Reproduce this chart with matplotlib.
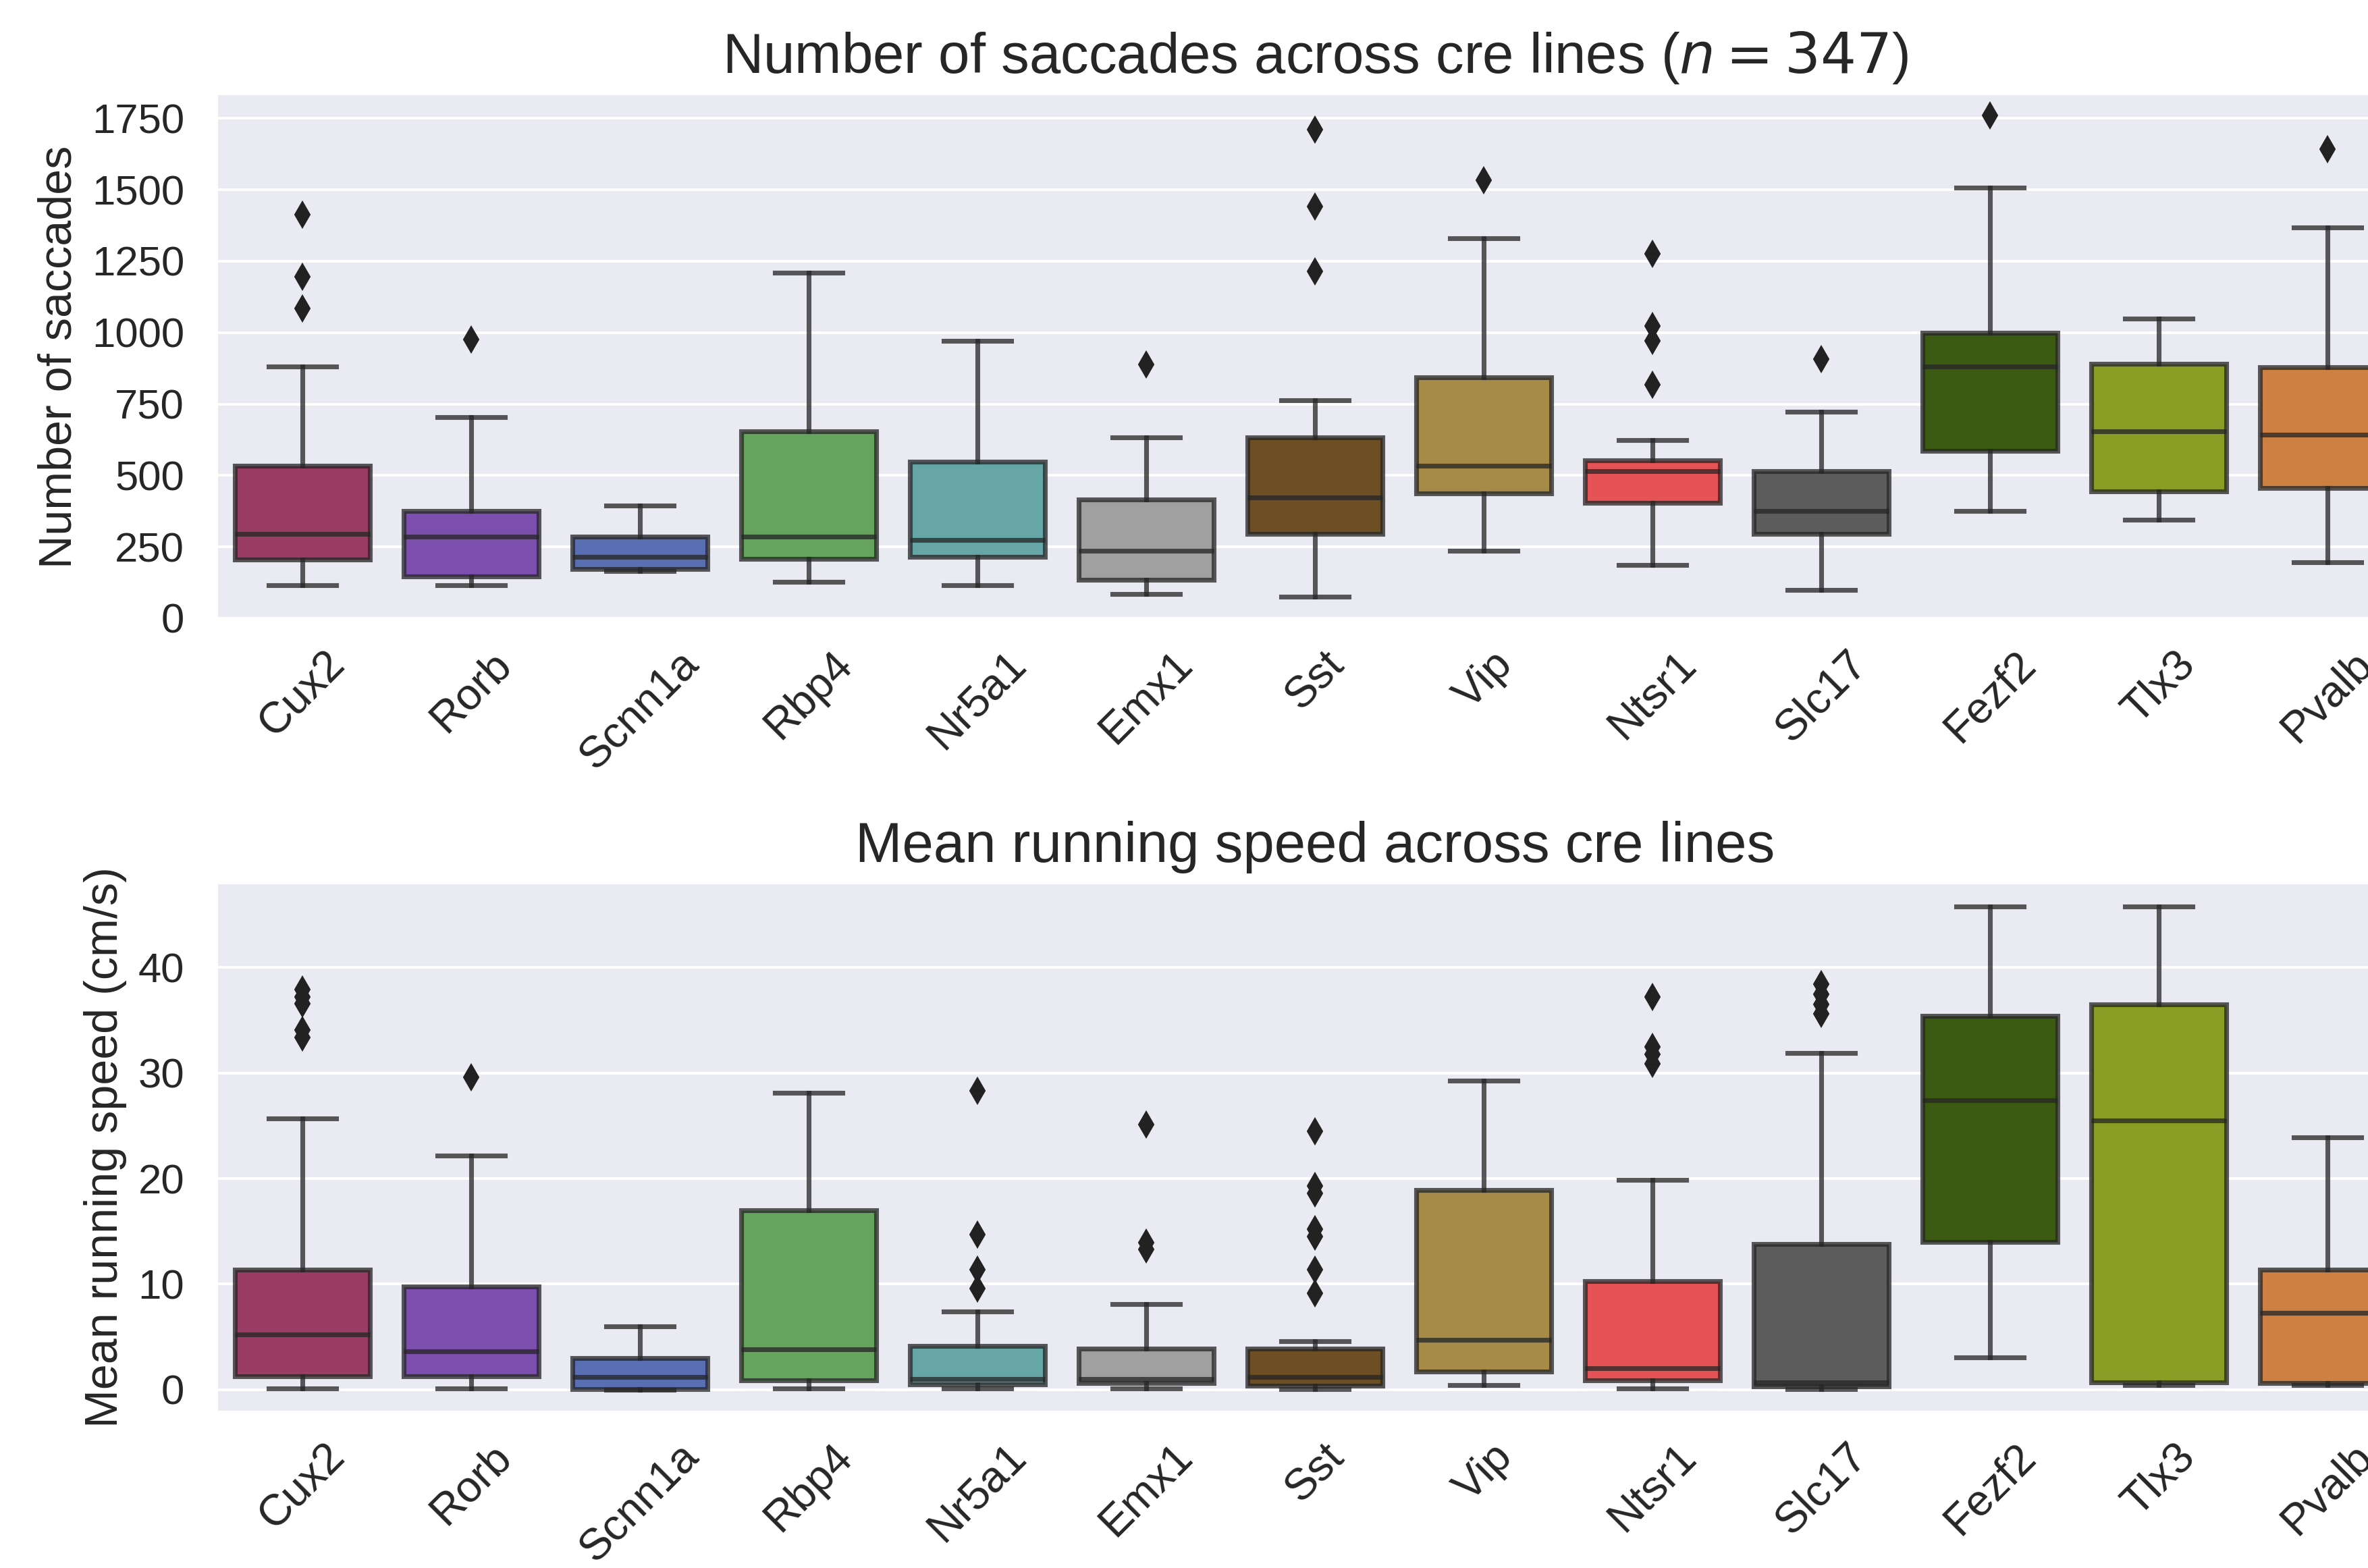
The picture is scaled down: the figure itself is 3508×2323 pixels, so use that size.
import numpy as np
import matplotlib
matplotlib.use('Agg')
import matplotlib.pyplot as plt

# ------------------------------------------------------------
#  data (box stats per cre line)
# ------------------------------------------------------------
cre_lines = ['Cux2', 'Rorb', 'Scnn1a', 'Rbp4', 'Nr5a1', 'Emx1', 'Sst',
             'Vip', 'Ntsr1', 'Slc17', 'Fezf2', 'Tlx3', 'Pvalb']

box_colors = ['#9a3d65', '#7c4fae', '#5a6eb4', '#64a45c', '#67a6a6', '#a0a0a0',
              '#6e4f23', '#a68a48', '#e65356', '#5c5c5c', '#3b5a12', '#8a9d25',
              '#cc8142']

# number of saccades
sac_whislo = [115, 115, 165, 128, 115, 86, 76, 236, 186, 98, 375, 344, 196]
sac_q1 = [205, 147, 173, 208, 215, 134, 295, 437, 405, 295, 585, 443, 456]
sac_med = [295, 285, 214, 285, 275, 235, 424, 534, 514, 375, 882, 654, 643]
sac_q3 = [534, 375, 285, 654, 547, 415, 633, 843, 553, 514, 1000, 891, 879]
sac_whishi = [882, 704, 394, 1209, 972, 633, 762, 1329, 624, 722, 1507, 1049, 1369]
sac_fliers = [[1413, 1195, 1085], [975], [], [], [], [888],
              [1711, 1442, 1214], [1533], [1275, 1023, 972, 817], [907],
              [1760], [], [1642]]

# mean running speed (cm/s)
spd_whislo = [0.1, 0.1, 0.0, 0.1, 0.1, 0.1, 0.03, 0.4, 0.1, 0.03, 3.05, 0.4, 0.4]
spd_q1 = [1.25, 1.25, 0.03, 0.9, 0.5, 0.6, 0.35, 1.7, 0.9, 0.3, 14.0, 0.7, 0.6]
spd_med = [5.2, 3.6, 1.2, 3.8, 1.0, 1.0, 1.2, 4.7, 2.0, 0.7, 27.4, 25.5, 7.3]
spd_q3 = [11.4, 9.8, 3.0, 17.0, 4.15, 3.9, 3.9, 18.9, 10.3, 13.8, 35.4, 36.5, 11.4]
spd_whishi = [25.7, 22.2, 6.0, 28.1, 7.4, 8.1, 4.6, 29.3, 19.9, 31.9, 45.8, 45.8, 23.9]
spd_fliers = [[37.9, 37.2, 36.6, 34.1, 33.4], [29.6], [], [],
              [28.3, 14.7, 11.4, 9.6], [25.1, 13.9, 13.3],
              [24.5, 19.3, 18.6, 15.2, 14.5, 11.4, 9.1], [],
              [37.2, 32.5, 31.8, 30.9], [38.4, 37.5, 36.5, 35.6], [], [], []]

LINE_C = (0.149, 0.149, 0.149, 0.76)
TEXT_C = '#262626'
LW = 1.7


def make_stats(whislo, q1, med, q3, whishi, fliers):
    stats = []
    for i, lbl in enumerate(cre_lines):
        stats.append(dict(label=lbl, whislo=whislo[i], q1=q1[i], med=med[i],
                          q3=q3[i], whishi=whishi[i],
                          fliers=np.array(fliers[i], dtype=float)))
    return stats


def draw_boxes(ax, stats):
    art = ax.bxp(stats, positions=np.arange(len(stats)), widths=0.8,
                 capwidths=0.4, patch_artist=True, showfliers=True,
                 boxprops=dict(edgecolor=LINE_C, linewidth=LW),
                 whiskerprops=dict(color=LINE_C, linewidth=LW),
                 capprops=dict(color=LINE_C, linewidth=LW),
                 medianprops=dict(color=LINE_C, linewidth=LW),
                 flierprops=dict(marker='d', markerfacecolor='#222222',
                                 markeredgecolor='#222222', markersize=6.4,
                                 markeredgewidth=0.5, linestyle='none'))
    for patch, c in zip(art['boxes'], box_colors):
        patch.set_facecolor(c)


def style_axis(ax):
    ax.set_facecolor('#EAEAF2')
    for s in ax.spines.values():
        s.set_visible(False)
    ax.set_axisbelow(True)
    ax.yaxis.grid(True, color='white', linewidth=0.9)
    ax.xaxis.grid(False)
    ax.tick_params(axis='both', length=0, labelcolor=TEXT_C)
    ax.tick_params(axis='y', labelsize=14.8, pad=12)
    ax.tick_params(axis='x', labelsize=15.6, pad=9)
    ax.set_xlim(-0.5, len(cre_lines) - 0.5)
    ax.set_xticks(np.arange(len(cre_lines)))
    ax.set_xticklabels(cre_lines, rotation=45, ha='center')


plt.rcParams['font.family'] = ['Liberation Sans', 'DejaVu Sans']
plt.rcParams['mathtext.fontset'] = 'dejavusans'

fig = plt.figure(figsize=(3508 / 300, 2323 / 300), dpi=300)
fig.patch.set_facecolor('white')

ax1 = fig.add_axes([0.0921, 0.6057, 0.9265, 0.3336])
ax2 = fig.add_axes([0.0921, 0.1003, 0.9265, 0.3358])

# ------------------------------------------------------------
#  top: saccades
# ------------------------------------------------------------
draw_boxes(ax1, make_stats(sac_whislo, sac_q1, sac_med, sac_q3, sac_whishi, sac_fliers))
style_axis(ax1)
ax1.set_ylim(0, 1831)
ax1.set_yticks(np.arange(0, 1751, 250))
ax1.set_ylabel('Number of saccades', fontsize=16.4, color=TEXT_C)
ax1.set_title('Number of saccades across cre lines ($n = 347$)', fontsize=20,
              pad=8, color=TEXT_C)

# ------------------------------------------------------------
#  bottom: running speed
# ------------------------------------------------------------
draw_boxes(ax2, make_stats(spd_whislo, spd_q1, spd_med, spd_q3, spd_whishi, spd_fliers))
style_axis(ax2)
ax2.set_ylim(-2.0, 47.9)
ax2.set_yticks(np.arange(0, 41, 10))
ax2.set_ylabel('Mean running speed (cm/s)', fontsize=16.4, color=TEXT_C)
ax2.set_title('Mean running speed across cre lines', fontsize=20, pad=8,
              color=TEXT_C)

fig.savefig('out.png', dpi=300)
